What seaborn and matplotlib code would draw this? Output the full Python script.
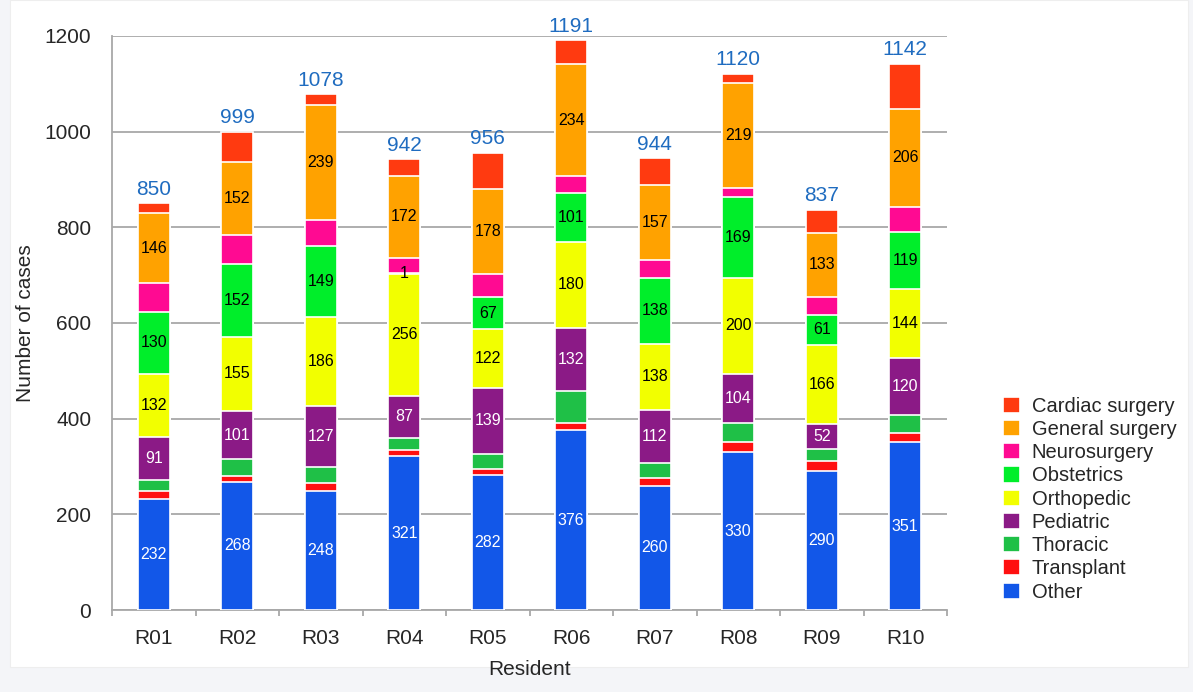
import matplotlib
matplotlib.use("Agg")
import matplotlib.pyplot as plt
import matplotlib.patches as mpatches
import seaborn as sns
import pandas as pd
import numpy as np

# Dados: casos por residente e especialidade
residents = ['R01', 'R02', 'R03', 'R04', 'R05', 'R06', 'R07', 'R08', 'R09', 'R10']

other = [232, 268, 248, 321, 282, 376, 260, 330, 290, 351]
transplant = [16, 13, 18, 14, 12, 14, 17, 22, 22, 20]
thoracic = [23, 34, 33, 25, 32, 68, 30, 38, 25, 36]
pediatric = [91, 101, 127, 87, 139, 132, 112, 104, 52, 120]
orthopedic = [132, 155, 186, 256, 122, 180, 138, 200, 166, 144]
obstetrics = [130, 152, 149, 1, 67, 101, 138, 169, 61, 119]
neurosurgery = [59, 62, 55, 32, 49, 36, 36, 19, 39, 52]
general_surgery = [146, 152, 239, 172, 178, 234, 157, 219, 133, 206]
cardiac_surgery = [21, 62, 23, 34, 75, 50, 56, 19, 49, 94]

# ordem de empilhamento (de baixo para cima)
specialties = ['Other', 'Transplant', 'Thoracic', 'Pediatric', 'Orthopedic',
               'Obstetrics', 'Neurosurgery', 'General surgery', 'Cardiac surgery']
series = [other, transplant, thoracic, pediatric, orthopedic,
          obstetrics, neurosurgery, general_surgery, cardiac_surgery]
colors = ['#1257E8', '#FF1010', '#1FC047', '#8B1A86', '#F2FF00',
          '#00EE2A', '#FF0A92', '#FFA200', '#FF3A10']
# especialidades com rótulo e cor do texto
label_color = {'Other': 'white', 'Pediatric': 'white', 'Orthopedic': 'black',
               'Obstetrics': 'black', 'General surgery': 'black'}

df = pd.DataFrame({'Resident': residents})
for name, vals in zip(specialties, series):
    df[name] = vals
cum = df[specialties].cumsum(axis=1)
df['Total'] = cum[specialties[-1]]

sns.set_style('white')
plt.rcParams['font.family'] = ['Liberation Sans', 'DejaVu Sans']

fig = plt.figure(figsize=(11.93, 6.92), dpi=100)
fig.patch.set_facecolor('#F4F5F8')
fig.patches.append(mpatches.Rectangle((10 / 1193, 25 / 692), 1178 / 1193, 667 / 692,
                                      transform=fig.transFigure, facecolor='white',
                                      edgecolor='#EEEEEE', lw=0.8, zorder=-10))
ax = fig.add_axes([112 / 1193, 82 / 692, 835 / 1193, 574 / 692])
ax.set_facecolor('none')

# barras empilhadas: desenha as somas acumuladas, da maior para a menor
for name, color in reversed(list(zip(specialties, colors))):
    sns.barplot(x=df['Resident'], y=cum[name], color=color, width=0.38,
                edgecolor='white', linewidth=1.2, ax=ax, zorder=3,
                label=name, saturation=1)

# rótulos dos segmentos
for name in specialties:
    if name not in label_color:
        continue
    for i in range(len(residents)):
        ypos = cum[name][i] - df[name][i] / 2
        ax.text(i, ypos, str(df[name][i]), ha='center', va='center',
                fontsize=11.5, color=label_color[name], zorder=5)

# totais
for i, tot in enumerate(df['Total']):
    ax.text(i, tot + 10, str(tot), ha='center', va='bottom',
            fontsize=15, color='#1F6CC0', zorder=5)

ax.set_ylim(0, 1200)
ax.set_xlim(-0.5, len(residents) - 0.5)
ax.set_yticks(range(0, 1201, 200))
ax.yaxis.grid(True, color='#A8A8A8', linewidth=1.3, zorder=0)
ax.set_axisbelow(True)
for s in ['top', 'right']:
    ax.spines[s].set_visible(False)
for s in ['left', 'bottom']:
    ax.spines[s].set_color('#A8A8A8')
    ax.spines[s].set_linewidth(1.3)
ax.tick_params(axis='y', which='major', length=5, color='#A8A8A8', width=1.3,
               labelsize=15, pad=10)
ax.tick_params(axis='x', which='major', length=0, labelsize=15, pad=14)
ax.set_xticks(np.arange(len(residents) + 1) - 0.5, minor=True)
ax.tick_params(axis='x', which='minor', length=4, color='#A8A8A8', width=1.3,
               direction='out', bottom=True)
ax.set_xlabel('Resident', fontsize=15, labelpad=8)
ax.set_ylabel('Number of cases', fontsize=15, labelpad=7)

handles, labels = ax.get_legend_handles_labels()
ax.legend(handles, labels, loc='center left', bbox_to_anchor=(1.057, 0.193),
          frameon=False, fontsize=14.5, labelspacing=0.21, handlelength=0.85,
          handleheight=0.85, handletextpad=0.6, borderaxespad=0)

plt.savefig('out.png', dpi=100)
